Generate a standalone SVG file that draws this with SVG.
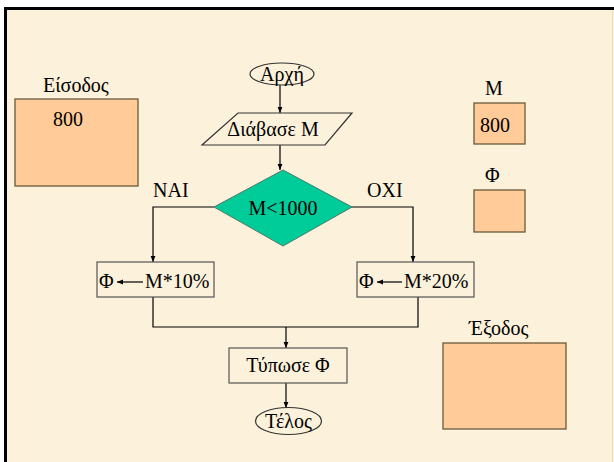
<svg xmlns="http://www.w3.org/2000/svg" width="614" height="462" viewBox="0 0 614 462">
<style>
text{font-family:"Liberation Serif","Times New Roman",serif;font-size:20px;fill:#000}
.ln{stroke:#000;stroke-width:1.2;fill:none}
.box{fill:#FFCC99;stroke:#6B5A3A;stroke-width:1.3}
.wbox{fill:none;stroke:#555;stroke-width:1.2}
</style>
<defs>
<marker id="ah" viewBox="0 0 10 10" refX="10" refY="5" markerWidth="6" markerHeight="6" orient="auto" markerUnits="userSpaceOnUse">
<path d="M0,1 L10,5 L0,9 z" fill="#000"/>
</marker>
</defs>
<rect width="614" height="462" fill="#fff"/>
<rect x="5" y="8" width="609" height="454" fill="#FCF1DA"/>
<path d="M5.5,462 V8.5 H614" stroke="#000" stroke-width="3" fill="none"/>
<line x1="612.5" y1="10" x2="612.5" y2="462" stroke="#E8DCC0" stroke-width="1"/>

<g id="connectors">
<line class="ln" x1="280" y1="85" x2="280" y2="113" marker-end="url(#ah)"/>
<line class="ln" x1="280" y1="145" x2="280" y2="170" marker-end="url(#ah)"/>
<polyline class="ln" points="214,207 153,207 153,262" marker-end="url(#ah)"/>
<polyline class="ln" points="351,207 413,207 413,262" marker-end="url(#ah)"/>
<polyline class="ln" points="153,297 153,327 418,327 418,297"/>
<line class="ln" x1="286" y1="327" x2="286" y2="348" marker-end="url(#ah)"/>
<line class="ln" x1="286" y1="383" x2="286" y2="408" marker-end="url(#ah)"/>
</g>

<g id="start">
<ellipse cx="282" cy="74" rx="32" ry="11" fill="none" stroke="#333" stroke-width="1.2"/>
<text x="282" y="81" text-anchor="middle">Αρχή</text>
</g>
<g id="input">
<polygon points="238,113 352,113 325,145 202,145" fill="none" stroke="#333" stroke-width="1.2"/>
<text x="273" y="136" text-anchor="middle">Διάβασε Μ</text>
</g>
<g id="decision">
<polygon points="283,170 352,207 283,246 214,207" fill="#00CC99" stroke="#4A7A6A" stroke-width="1"/>
<text x="283" y="215" text-anchor="middle">M&lt;1000</text>
<text x="153" y="197">NAI</text>
<text x="367" y="197">OXI</text>
</g>
<g id="yes-box">
<rect class="wbox" x="97" y="262" width="117" height="35"/>
<text x="99" y="288">Φ</text>
<line class="ln" x1="143" y1="282" x2="117" y2="282" marker-end="url(#ah)"/>
<text x="145" y="288">M*10%</text>
</g>
<g id="no-box">
<rect class="wbox" x="357" y="262" width="117" height="35"/>
<text x="359" y="288">Φ</text>
<line class="ln" x1="402" y1="282" x2="377" y2="282" marker-end="url(#ah)"/>
<text x="404" y="288">M*20%</text>
</g>
<g id="print">
<rect class="wbox" x="229" y="348" width="118" height="35"/>
<text x="288" y="372" text-anchor="middle">Τύπωσε Φ</text>
</g>
<g id="end">
<ellipse cx="288.5" cy="421" rx="33" ry="13.5" fill="none" stroke="#333" stroke-width="1.2"/>
<text x="288.5" y="428" text-anchor="middle">Τέλος</text>
</g>

<g id="input-panel">
<text x="43" y="92">Είσοδος</text>
<rect class="box" x="15" y="99" width="123" height="87"/>
<text x="53" y="126">800</text>
</g>
<g id="var-M">
<text x="485" y="95">M</text>
<rect class="box" x="474" y="103" width="51" height="41"/>
<text x="480" y="132">800</text>
</g>
<g id="var-F">
<text x="485" y="182">Φ</text>
<rect class="box" x="474" y="190" width="51" height="42"/>
</g>
<g id="output-panel">
<text x="469" y="335">Έξοδος</text>
<rect class="box" x="443" y="343" width="123" height="86"/>
</g>
</svg>
